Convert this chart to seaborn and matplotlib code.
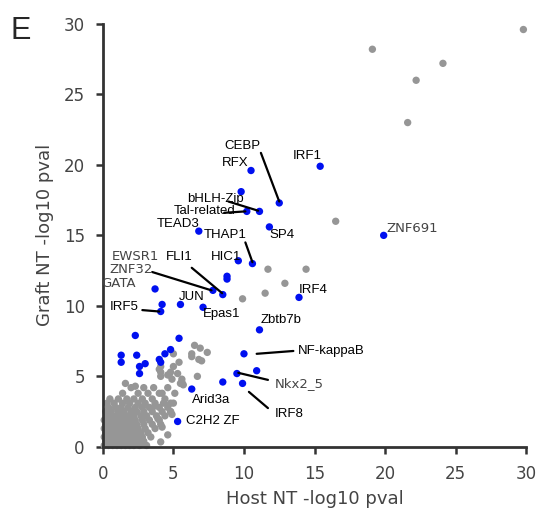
import numpy as np
import pandas as pd
import matplotlib
matplotlib.use("Agg")
import matplotlib.pyplot as plt
import seaborn as sns

# significant motifs (blue)
sig_x = [15.4, 10.5, 12.5, 9.8, 11.1, 10.2, 11.8, 6.8, 19.9, 9.6, 10.6, 8.8, 8.8,
         3.7, 7.8, 8.5, 13.9, 5.5, 4.2, 4.1, 7.1, 11.1, 2.3, 5.4, 1.3, 1.3, 2.4,
         2.6, 2.6, 3.0, 4.0, 4.1, 4.4, 4.8, 10.0, 9.5, 10.9, 8.5, 9.9, 6.3, 5.3]
sig_y = [19.9, 19.6, 17.3, 18.1, 16.7, 16.7, 15.6, 15.3, 15.0, 13.2, 13.0, 12.1, 11.9,
         11.2, 11.1, 10.8, 10.6, 10.1, 10.1, 9.6, 9.9, 8.3, 7.9, 7.7, 6.5, 6.0, 6.5,
         5.7, 5.2, 5.9, 6.2, 6.0, 6.6, 6.9, 6.6, 5.2, 5.4, 4.6, 4.5, 4.1, 1.8]

# non-significant motifs (gray)
ns_x = [19.1, 22.2, 24.1, 29.8, 21.6, 16.5, 11.7, 14.4, 12.9, 11.5, 9.9,
        6.5, 6.9, 7.4, 6.3, 6.8, 7.0, 6.3, 5.0, 5.4, 4.1, 5.0, 4.1, 4.1, 4.7, 5.3,
        4.9, 5.6, 5.5, 5.6, 6.7, 4.0, 4.6, 4.8, 5.6, 5.7,
        4.2, 4.8, 4.8, 4.9, 4.2, 4.6, 4.1, 3.9, 3.7,
        0.1, 0.4, 0.7, 1.0, 1.3, 1.6, 1.9, 2.2, 2.6, 3.1,
        0.2, 0.5, 0.8, 1.1, 1.5, 1.8, 2.1, 2.5, 2.9,
        0.1, 0.4, 0.7, 1.0, 1.3, 1.7, 2.0, 2.4, 2.8, 3.4,
        0.2, 0.5, 0.9, 1.2, 1.5, 1.9, 2.3, 2.7, 3.2,
        0.1, 0.4, 0.7, 1.1, 1.4, 1.7, 2.1, 2.5, 3.0, 3.7,
        0.3, 0.6, 0.9, 1.3, 1.6, 2.0, 2.4, 2.9, 3.5, 4.1,
        0.1, 0.5, 0.8, 1.2, 1.5, 1.9, 2.3, 2.8, 3.3, 4.0,
        0.3, 0.7, 1.0, 1.4, 1.8, 2.2, 2.7, 3.1, 3.8, 4.4,
        0.2, 0.6, 1.1, 1.5, 2.0, 2.4, 2.9, 3.5, 4.2, 4.8,
        0.4, 0.9, 1.3, 1.8, 2.3, 2.8, 3.3, 4.0, 4.6,
        0.3, 0.8, 1.4, 1.9, 2.5, 3.0, 3.7, 4.3, 5.0,
        0.5, 1.1, 1.7, 2.2, 2.8, 3.5, 4.4,
        1.4, 2.5, 3.2, 4.0, 5.1,
        2.0, 2.9, 4.6, 1.6, 2.3, 3.6,
        0.25, 0.55, 0.95, 1.35, 1.75, 2.15,
        0.3, 0.65, 1.05, 1.45, 1.85, 2.3,
        0.25, 0.6, 1.0, 1.4, 1.8, 2.2,
        0.35, 0.75, 1.15, 1.55, 2.0,
        0.2, 0.6, 1.0, 1.45, 1.9,
        0.45, 0.85, 1.25, 1.7]
ns_y = [28.2, 26.0, 27.2, 29.6, 23.0, 16.0, 12.6, 12.6, 11.6, 10.9, 10.5,
        7.2, 7.0, 6.7, 6.6, 6.2, 6.1, 6.4, 6.6, 6.0, 5.7, 5.7, 5.3, 5.0, 5.1, 5.2,
        4.8, 4.8, 4.5, 4.5, 5.0, 5.5, 5.1, 5.3, 4.6, 4.4,
        3.8, 3.1, 2.5, 2.3, 1.4, 0.85, 0.35, 2.0, 2.9,
        0.1, 0.1, 0.1, 0.1, 0.1, 0.1, 0.1, 0.1, 0.1, 0.1,
        0.4, 0.4, 0.4, 0.4, 0.4, 0.4, 0.4, 0.4, 0.4,
        0.7, 0.7, 0.7, 0.7, 0.7, 0.7, 0.7, 0.7, 0.7, 0.7,
        1.0, 1.0, 1.0, 1.0, 1.0, 1.0, 1.0, 1.0, 1.0,
        1.3, 1.3, 1.3, 1.3, 1.3, 1.3, 1.3, 1.3, 1.3, 1.3,
        1.6, 1.6, 1.6, 1.6, 1.6, 1.6, 1.6, 1.6, 1.6, 1.6,
        1.9, 1.9, 1.9, 1.9, 1.9, 1.9, 1.9, 1.9, 1.9, 1.9,
        2.2, 2.2, 2.2, 2.2, 2.2, 2.2, 2.2, 2.2, 2.2, 2.2,
        2.5, 2.5, 2.5, 2.5, 2.5, 2.5, 2.5, 2.5, 2.5, 2.5,
        2.8, 2.8, 2.8, 2.8, 2.8, 2.8, 2.8, 2.8, 2.8,
        3.1, 3.1, 3.1, 3.1, 3.1, 3.1, 3.1, 3.1, 3.1,
        3.4, 3.4, 3.4, 3.4, 3.4, 3.4, 3.4,
        3.8, 3.8, 3.8, 3.8, 3.8,
        4.2, 4.2, 4.2, 4.5, 4.3, 4.2,
        0.25, 0.25, 0.25, 0.25, 0.25, 0.25,
        0.55, 0.55, 0.55, 0.55, 0.55, 0.55,
        0.85, 0.85, 0.85, 0.85, 0.85, 0.85,
        1.15, 1.15, 1.15, 1.15, 1.15,
        1.5, 1.5, 1.5, 1.5, 1.5,
        2.05, 2.05, 2.05, 2.05]

# labels: text, text x, text y, alignment, colour
lab_text = ["CEBP", "RFX", "IRF1", "bHLH-Zip", "Tal-related", "TEAD3", "SP4", "THAP1",
            "HIC1", "EWSR1", "FLI1", "ZNF32", "GATA", "IRF4", "JUN", "IRF5", "Epas1",
            "Zbtb7b", "NF-kappaB", "Nkx2_5", "IRF8", "Arid3a", "C2H2 ZF", "ZNF691"]
lab_x = [9.9, 9.4, 14.5, 8.0, 7.2, 5.3, 12.7, 8.7, 8.7, 2.3, 5.4, 2.0, 1.1, 14.9,
         6.3, 1.5, 8.4, 12.6, 13.8, 12.2, 12.2, 7.7, 5.9, 20.1]
lab_y = [21.35, 20.1, 20.6, 17.6, 16.7, 15.8, 15.0, 15.0, 13.5, 13.5, 13.5, 12.6,
         11.6, 11.1, 10.6, 9.9, 9.4, 9.0, 6.8, 4.5, 2.3, 3.3, 1.8, 15.5]
lab_ha = ["center"] * 18 + ["left", "left", "left", "center", "left", "left"]
lab_grey = {"EWSR1", "ZNF32", "GATA", "Nkx2_5", "ZNF691"}

# leader lines (x0, y0, x1, y1)
lines = [(11.2, 20.85, 12.5, 17.4), (8.9, 17.4, 11.0, 16.75), (8.6, 16.6, 10.1, 16.7),
         (10.1, 14.5, 10.6, 13.1), (6.3, 12.7, 8.45, 10.9), (3.5, 12.4, 7.7, 11.1),
         (2.8, 9.7, 4.0, 9.6), (10.9, 6.6, 13.5, 6.8), (9.6, 5.25, 11.7, 4.75),
         (10.35, 3.9, 11.7, 2.75)]

df = pd.DataFrame({
    "host": ns_x + sig_x,
    "graft": ns_y + sig_y,
    "group": ["ns"] * len(ns_x) + ["sig"] * len(sig_x),
})

sns.set_style("ticks")
fig = plt.figure(figsize=(5.47, 5.19), dpi=100)
ax = fig.add_axes([0.188, 0.139, 0.774, 0.815])

sns.scatterplot(data=df, x="host", y="graft", hue="group",
                palette={"ns": "#969696", "sig": "#0010f0"},
                s=28, linewidth=0, legend=False, ax=ax, clip_on=False)

for (x0, y0, x1, y1) in lines:
    ax.plot([x0, x1], [y0, y1], color="black", lw=1.6)

for t, x, y, ha in zip(lab_text, lab_x, lab_y, lab_ha):
    if t in lab_grey:
        ax.text(x, y, t, ha=ha, va="center", fontsize=9.5, color="#444444",
                family="DejaVu Sans")
    else:
        ax.text(x, y, t, ha=ha, va="center", fontsize=9.5, color="black",
                family="Liberation Sans")

ax.set_xlim(0, 30)
ax.set_ylim(0, 30)
ax.set_xticks([0, 5, 10, 15, 20, 25, 30])
ax.set_yticks([0, 5, 10, 15, 20, 25, 30])
ax.set_xlabel("Host NT -log10 pval", fontsize=13, color="#444444", labelpad=5)
ax.set_ylabel("Graft NT -log10 pval", fontsize=13, color="#444444", labelpad=7)
ax.tick_params(labelsize=12, colors="#333333", length=5, width=1.8,
               labelcolor="#444444", pad=8)
for sp in ["left", "bottom"]:
    ax.spines[sp].set_linewidth(2)
    ax.spines[sp].set_color("#333333")
sns.despine(ax=ax)

fig.text(0.02, 0.94, "E", fontsize=22, family="Liberation Sans", va="center")

fig.savefig("out.png", dpi=100)
